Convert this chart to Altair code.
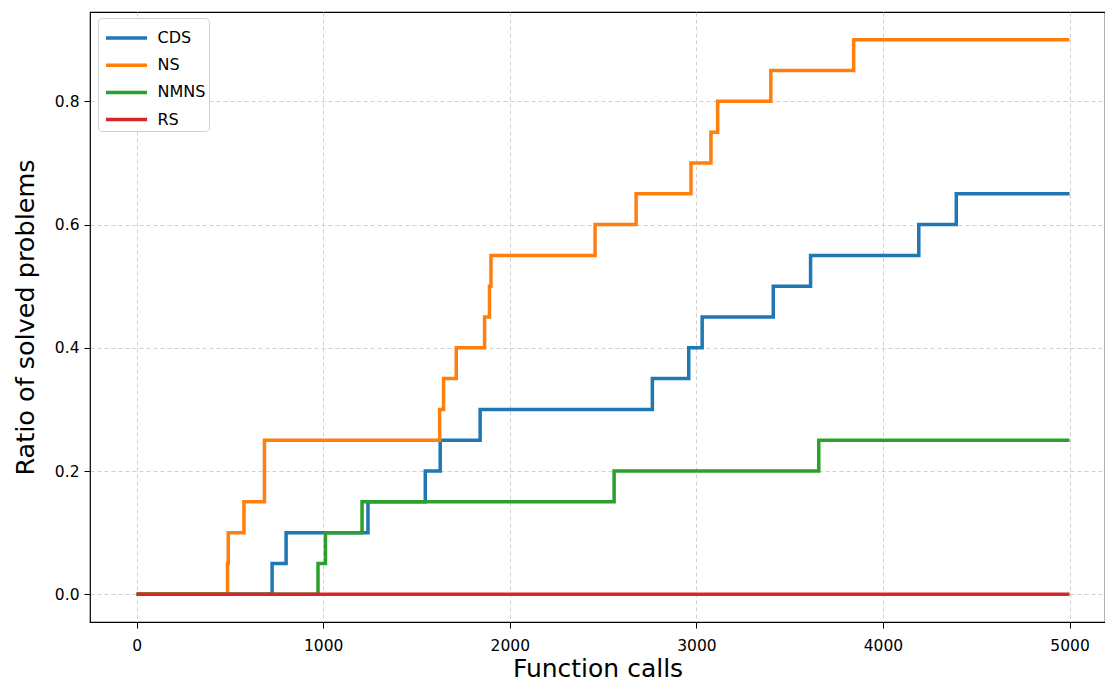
import altair as alt
import pandas as pd

# Function-call counts where each solver's ratio steps up, and the new ratio
cds_x = [0, 726, 801, 1240, 1547, 1627, 1841, 2764, 2959, 3031, 3412, 3612, 4192, 4393, 5000]
cds_y = [0.0, 0.05, 0.10, 0.15, 0.20, 0.25, 0.30, 0.35, 0.40, 0.45, 0.50, 0.55, 0.60, 0.65, 0.65]

ns_x = [0, 487, 491, 575, 685, 1624, 1645, 1713, 1865, 1891, 1899, 2457, 2677, 2971, 3078, 3114, 3399, 3843, 5000]
ns_y = [0.0, 0.05, 0.10, 0.15, 0.25, 0.30, 0.35, 0.40, 0.45, 0.50, 0.55, 0.60, 0.65, 0.70, 0.75, 0.80, 0.85, 0.90, 0.90]

nmns_x = [0, 972, 1012, 1208, 2559, 3656, 5000]
nmns_y = [0.0, 0.05, 0.10, 0.15, 0.20, 0.25, 0.25]

rs_x = [0, 5000]
rs_y = [0.0, 0.0]

solvers = ["CDS", "NS", "NMNS", "RS"]
colors = ["#1f77b4", "#ff7f0e", "#2ca02c", "#d62728"]
x_ticks = [0, 1000, 2000, 3000, 4000, 5000]
y_ticks = [0.0, 0.2, 0.4, 0.6, 0.8]

rows = []
for name, xs, ys in zip(solvers, [cds_x, ns_x, nmns_x, rs_x], [cds_y, ns_y, nmns_y, rs_y]):
    for xv, yv in zip(xs, ys):
        rows.append({"solver": name, "calls": xv, "ratio": yv, "order": solvers.index(name)})
df = pd.DataFrame(rows)

FONT = "DejaVu Sans"

chart = alt.Chart(df).mark_line(interpolate="step-after", strokeWidth=3.5).encode(
    x=alt.X(
        "calls:Q",
        scale=alt.Scale(domain=[-250, 5190], nice=False, zero=False),
        axis=alt.Axis(
            title="Function calls",
            values=x_ticks,
            format="d",
            labelPadding=10,
            titlePadding=3,
            titleFontSize=25,
        ),
    ),
    y=alt.Y(
        "ratio:Q",
        scale=alt.Scale(domain=[-0.045, 0.945], nice=False, zero=False),
        axis=alt.Axis(
            title="Ratio of solved problems",
            values=y_ticks,
            format=".1f",
            labelPadding=5,
            titlePadding=16,
            titleFontSize=25.5,
        ),
    ),
    color=alt.Color(
        "solver:N",
        scale=alt.Scale(domain=solvers, range=colors),
        legend=alt.Legend(
            title=None,
            orient="none",
            legendX=8,
            legendY=6,
            symbolType="M-1.37,0L1.37,0",
            symbolStrokeWidth=3.5,
            symbolSize=900,
            symbolOffset=8.5,
            labelFont=FONT,
            labelFontSize=16,
            labelColor="#000000",
            labelOffset=14,
            rowPadding=2.2,
            padding=3,
            fillColor="white",
            strokeColor="#d0d0d0",
            cornerRadius=4,
        ),
    ),
    order=alt.Order("order:Q"),
).properties(
    width=1015,
    height=610,
    autosize=alt.AutoSizeParams(type="none"),
    padding={"left": 82, "top": 4, "right": 0, "bottom": 61},
).configure_view(
    stroke="#000000",
    strokeWidth=1.2,
).configure_axis(
    grid=True,
    gridColor="#c4c4c4",
    gridDash=[4, 3],
    gridWidth=0.8,
    domain=False,
    tickColor="#000000",
    tickSize=6,
    tickWidth=1,
    labelFont=FONT,
    labelFontSize=15.5,
    labelColor="#000000",
    titleFont=FONT,
    titleFontWeight="normal",
    titleColor="#000000",
)

chart.save("out.html", embed_options={"renderer": "svg", "actions": False})
